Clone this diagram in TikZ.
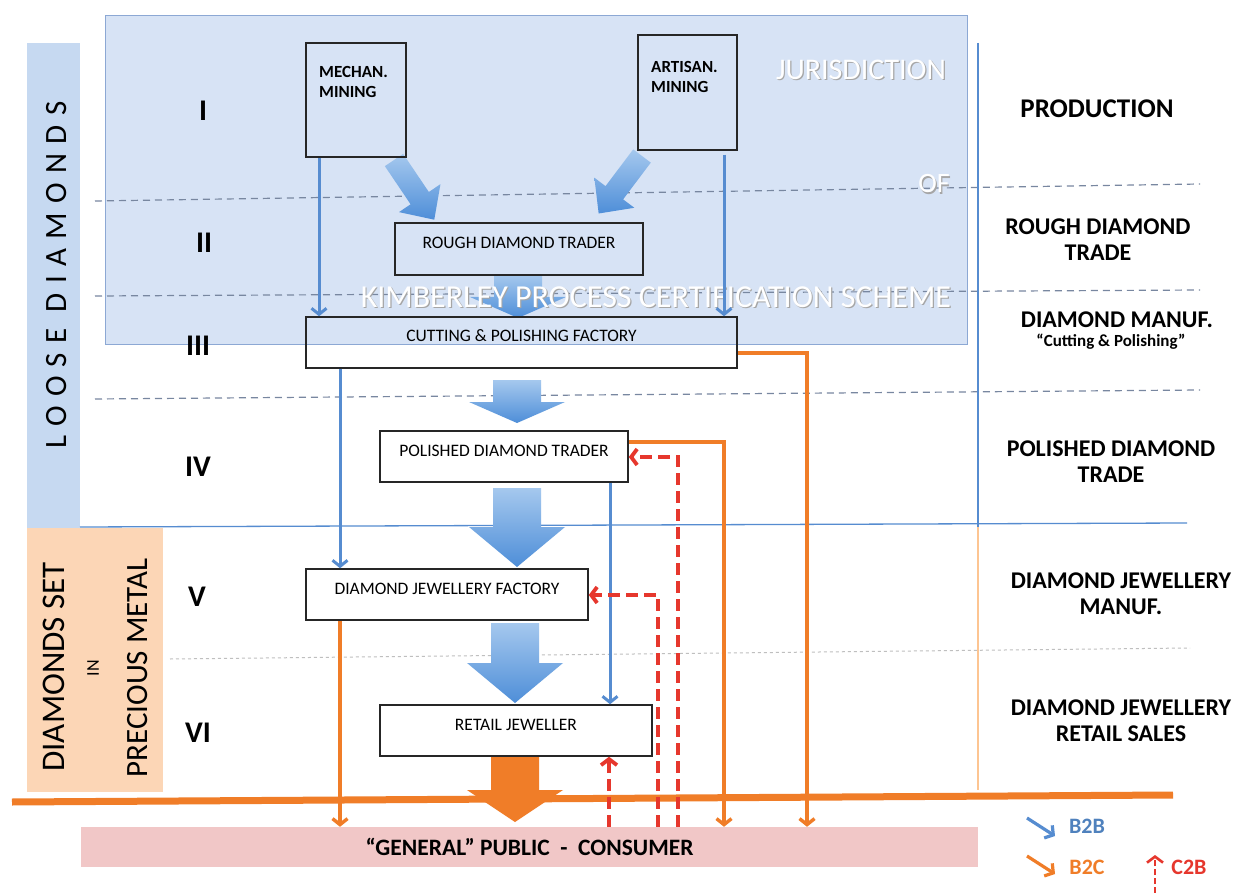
\documentclass[tikz,border=0pt]{standalone}
\usepackage{fontspec}
\setmainfont{Carlito}
\newfontfamily\spacedfont[LetterSpace=30]{Carlito}
\usetikzlibrary{arrows.meta,calc}
\definecolor{bgblue}{RGB}{215,227,245}
\definecolor{bgblueedge}{RGB}{140,168,212}
\definecolor{barblue}{RGB}{198,217,241}
\definecolor{peach}{RGB}{252,214,182}
\definecolor{pinkband}{RGB}{241,199,199}
\definecolor{flowblue}{RGB}{86,140,208}
\definecolor{blocktop}{RGB}{165,200,238}
\definecolor{blockbot}{RGB}{78,142,216}
\definecolor{orangeflow}{RGB}{240,125,40}
\definecolor{redflow}{RGB}{230,55,45}
\definecolor{dashgray}{RGB}{120,135,160}
\definecolor{legblue}{RGB}{79,129,189}
\newcommand\downblock[5]{%
  \path[#5] ({#1-24},#2) -- ({#1+24},#2) -- ({#1+24},#3) -- ({#1+48},#3) -- (#1,#4) -- ({#1-48},#3) -- ({#1-24},#3) -- cycle;}
\newcommand\diagblock[5]{%
  \begin{scope}[shift={(#1,#2)},rotate=#3]
  \path[#5] (0,-11) -- ({#4-26},-11) -- ({#4-26},-25) -- (#4,0) -- ({#4-26},25) -- ({#4-26},11) -- (0,11) -- cycle;
  \end{scope}}
\begin{document}
\begin{tikzpicture}[x=1pt,y=-1pt,
  box/.style={draw=black!85, line width=1.5pt, inner sep=0pt, text height=11pt, text depth=12pt, font=\fontsize{17.5}{19}\selectfont},
  minelabel/.style={anchor=north west, align=left, inner sep=0pt, font=\bfseries\fontsize{17}{20}\selectfont},
  roman/.style={font=\bfseries\fontsize{30}{32}\selectfont},
  rlabel/.style={align=center, inner sep=0pt, font=\bfseries\fontsize{24}{26}\selectfont},
  wm/.style={text=white, inner sep=0pt, font=\fontsize{32}{34}\selectfont},
  wmshadow/.style={text=black!35, inner sep=0pt, font=\fontsize{32}{34}\selectfont},
  sidetext/.style={rotate=90, inner sep=0pt},
  blk/.style={top color=blocktop, bottom color=blockbot, draw=none},
  oblk/.style={fill=orangeflow, draw=none},
  b2b/.style={draw=flowblue, line width=3pt, -{Straight Barb[length=6pt,width=15pt]}},
  b2c/.style={draw=orangeflow, line width=3.4pt, -{Straight Barb[length=6pt,width=15pt]}},
  c2b/.style={draw=redflow, line width=3.8pt, dash pattern=on 12pt off 6pt, -{Straight Barb[length=6pt,width=16pt]}},
  sep/.style={draw=dashgray, line width=1.2pt, dash pattern=on 7pt off 5pt},
  leg/.style={font=\bfseries\fontsize{22}{24}\selectfont, inner sep=0pt}]
\useasboundingbox (0,0) rectangle (1240,893);
\fill[white] (0,0) rectangle (1240,893);

% side bars and regions
\fill[barblue] (27,43) rectangle (80,528);
\fill[peach] (27,528) rectangle (163,792);
\filldraw[fill=bgblue, draw=bgblueedge, line width=0.8pt] (105,15) rectangle (967,344);
\node[fill=pinkband, minimum width=897pt, minimum height=40pt, inner sep=0pt,
      font=\bfseries\fontsize{23.5}{25}\selectfont] (public) at (529.5,847) {“GENERAL” PUBLIC \ - \ CONSUMER};

% separators
\draw[sep] (95,201) -- (1200,184);
\draw[sep] (95,296) -- (1200,290);
\draw[sep] (95,399) -- (1200,390);
\draw[black!25, line width=1pt, dash pattern=on 3pt off 3pt] (170,659) -- (1190,648);
\draw[flowblue, line width=1.3pt] (80,527) -- (1187,523);
\draw[flowblue, line width=1.8pt] (978,43) -- (978,527);
\draw[peach!80!orange, line width=1.2pt] (978,527) -- (978,790);
\draw[orangeflow, line width=7pt] (12,802) -- (1173,795);

% side texts
\node[sidetext, font=\spacedfont\fontsize{31}{33}\selectfont] (loose) at (57,275) {LOOSE DIAMONDS};
\node[sidetext, font=\fontsize{33}{35}\selectfont] (dset) at (54,667) {DIAMONDS SET};
\node[sidetext, font=\fontsize{18}{20}\selectfont] (din) at (93,668) {IN};
\node[sidetext, font=\fontsize{31}{33}\selectfont] (dprec) at (138,668) {PRECIOUS METAL};

% roman numerals
\node[roman] (r1) at (203,111) {I};
\node[roman] (r2) at (204,243) {II};
\node[roman] (r3) at (198,346) {III};
\node[roman] (r4) at (198,467) {IV};
\node[roman] (r5) at (197,597) {V};
\node[roman] (r6) at (198,733) {VI};

% block arrows
\diagblock{394}{160}{-56}{72}{blk}
\diagblock{642}{156}{-127}{72}{blk}
\downblock{518}{275}{297}{318}{blk}
\downblock{517}{380}{402}{423}{blk}
\downblock{517}{488}{527}{567}{blk}
\downblock{515}{623}{663}{703}{blk}
\downblock{515}{756}{790}{822}{oblk}

% watermark texts
\node[wmshadow] (kpcsS) at (657.2,298.2) {KIMBERLEY PROCESS CERTIFICATION SCHEME};
\node[wm] (kpcs) at (656,297) {KIMBERLEY PROCESS CERTIFICATION SCHEME};
\node[wmshadow, font=\fontsize{30}{32}\selectfont] (jurS) at (862.2,71.2) {JURISDICTION};
\node[wm, font=\fontsize{30}{32}\selectfont] (jur) at (861,70) {JURISDICTION};
\node[wmshadow, font=\fontsize{28}{30}\selectfont] (ofS) at (935.2,185.2) {OF};
\node[wm, font=\fontsize{28}{30}\selectfont] (of) at (934,184) {OF};

% boxes
\node[box, minimum width=100pt, minimum height=114pt] (mech) at (356,100) {};
\node[minelabel] (mechT) at (319,66) {MECHAN.\\MINING};
\node[box, minimum width=99pt, minimum height=115pt] (art) at (687.5,92.5) {};
\node[minelabel] (artT) at (651,61) {ARTISAN.\\MINING};
\node[box, minimum width=248pt, minimum height=52pt] (rough) at (519,249) {ROUGH DIAMOND TRADER};
\node[box, minimum width=431pt, minimum height=51pt] (cut) at (521.5,342.5) {CUTTING \& POLISHING FACTORY};
\node[box, minimum width=248pt, minimum height=51pt] (pol) at (504,456.5) {POLISHED DIAMOND TRADER};
\node[box, minimum width=282pt, minimum height=51pt] (djf) at (447,594.5) {DIAMOND JEWELLERY FACTORY};
\node[box, minimum width=272pt, minimum height=51pt] (ret) at (516,730.5) {RETAIL JEWELLER};

% right labels
\node[rlabel, font=\bfseries\fontsize{27}{29}\selectfont] (lprod) at (1097,109) {PRODUCTION};
\node[rlabel] (lrough) at (1098,240) {ROUGH DIAMOND\\TRADE};
\node[rlabel] (lmanuf) at (1117,320) {DIAMOND MANUF.};
\node[rlabel, font=\bfseries\fontsize{17}{19}\selectfont] (lcp) at (1111,342) {“Cutting \& Polishing”};
\node[rlabel] (lpol) at (1111,462) {POLISHED DIAMOND\\TRADE};
\node[rlabel] (ljman) at (1121,594) {DIAMOND JEWELLERY\\MANUF.};
\node[rlabel] (ljret) at (1121,721) {DIAMOND JEWELLERY\\RETAIL SALES};

% coordinates for connector routes
\coordinate (xm) at (319,0);
\coordinate (xa) at (724,0);
\coordinate (xc) at (340,0);
\coordinate (xp) at (610,0);
\coordinate (oc) at (807,353);
\coordinate (op) at (724,442);
\coordinate (rp) at (678,457);
\coordinate (rd) at (658,595);
\coordinate (xr) at (609,0);

% B2B
\draw[b2b] (mech.south -| xm) -- (cut.north -| xm);
\draw[b2b, shorten <=4pt] (art.south -| xa) -- (cut.north -| xa);
\draw[b2b] (cut.south -| xc) -- (djf.north -| xc);
\draw[b2b] (pol.south -| xp) -- (ret.north -| xp);

% B2C
\draw[b2c] (cut.east |- oc) -- (oc) -- (oc |- public.north);
\draw[b2c] (pol.east |- op) -- (op) -- (op |- public.north);
\draw[b2c] (djf.south -| xc) -- (public.north -| xc);

% C2B
\draw[c2b] (rp |- public.north) -- (rp) -- (pol.east |- rp);
\draw[c2b] (rd |- public.north) -- (rd) -- (djf.east |- rd);
\draw[c2b] (public.north -| xr) -- (ret.south -| xr);

% legend
\coordinate (lba) at (1027,818);
\coordinate (lbb) at (1055,836);
\coordinate (loa) at (1027,856);
\coordinate (lob) at (1055,874);
\coordinate (lra) at (1155,893);
\coordinate (lrb) at (1155,855);
\draw[b2b, line width=3.2pt] (lba) -- (lbb);
\draw[b2c, line width=3.2pt] (loa) -- (lob);
\draw[c2b, line width=2.6pt, dash pattern=on 6pt off 3pt] (lra) -- (lrb);
\node[leg, text=legblue] (lgb2b) at (1087,826) {B2B};
\node[leg, text=orangeflow] (lgb2c) at (1087,867) {B2C};
\node[leg, text=redflow] (lgc2b) at (1189,867) {C2B};
\end{tikzpicture}
\end{document}
